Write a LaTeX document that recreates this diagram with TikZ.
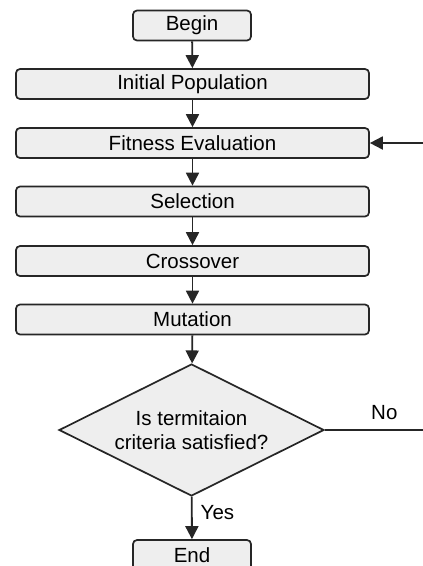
\documentclass[tikz,border=0pt]{standalone}
\usepackage{fontspec}
\setmainfont{Liberation Sans}
\usetikzlibrary{shapes.geometric,arrows.meta}
\definecolor{boxfill}{HTML}{EEEEEE}
\definecolor{edge}{HTML}{262626}
\begin{document}
\begin{tikzpicture}[x=1pt,y=-1pt,
  box/.style={draw=edge,fill=boxfill,line width=1.7pt,rounded corners=4pt,
    minimum width=353pt,minimum height=30pt,inner sep=0pt,
    font=\fontsize{20.5}{24}\selectfont},
  smallbox/.style={box,minimum width=118pt},
  decision/.style={draw=edge,fill=boxfill,line width=1.7pt,shape=diamond,aspect=2,
    minimum width=265pt,minimum height=132pt,inner sep=0pt,align=center,
    font=\fontsize{20.5}{24}\selectfont},
  arr/.style={draw=edge,line width=1.8pt,-{Triangle[length=13pt,width=13pt]}},
  ln/.style={draw=edge,line width=1.8pt},
  lbl/.style={font=\fontsize{20.5}{24}\selectfont,inner sep=0pt}]
\useasboundingbox (0,0) rectangle (423,566);
\fill[white] (0,0) rectangle (423,566);
\node[smallbox] (begin) at (192,25.5) {Begin};
\node[box] (init) at (192.5,84) {Initial Population};
\node[box] (fit) at (192.5,143) {Fitness Evaluation};
\node[box] (sel) at (192.5,201.5) {Selection};
\node[box] (cross) at (192.5,261) {Crossover};
\node[box] (mut) at (192.5,319.5) {Mutation};
\node[decision] (dec) at (191.5,430) {Is termitaion\\criteria satisfied?};
\node[smallbox] (end) at (192,555) {End};
\coordinate (noend) at (424,430);
\coordinate (fbstart) at (424,143);
\draw[arr] (begin) -- (init);
\draw[arr] (init) -- (fit);
\draw[arr] (fit) -- (sel);
\draw[arr] (sel) -- (cross);
\draw[arr] (cross) -- (mut);
\draw[arr] (mut) -- (dec);
\draw[arr] (dec) -- node[lbl,right=8pt,pos=0.38] (yes) {Yes} (end);
\draw[ln] (dec.east) -- node[lbl,above=9pt,pos=0.6] (no) {No} (noend);
\draw[arr] (fbstart) -- (fit.east);
\end{tikzpicture}
\end{document}
